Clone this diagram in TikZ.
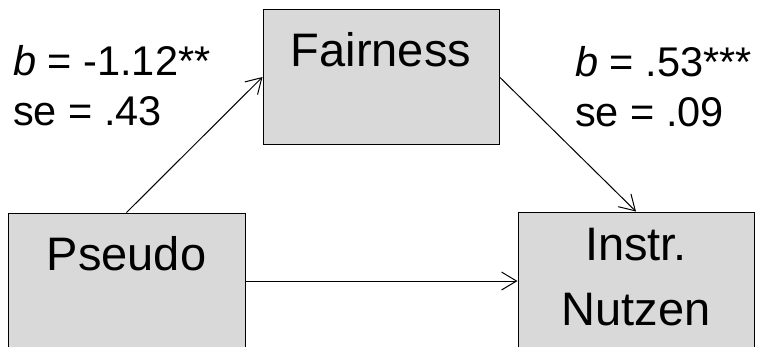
\documentclass[tikz,border=0pt]{standalone}
\usepackage{fontspec}
\setmainfont{Liberation Sans}
\usetikzlibrary{arrows.meta}
\tikzset{
  box/.style={draw=black, line width=1pt, fill=black!15, minimum width=236pt, inner sep=0pt,
    font=\fontsize{47}{65}\selectfont, align=center},
  conn/.style={line width=1pt, -{Straight Barb[length=15pt,width=18pt,line width=1pt]}},
  coef/.style={inner sep=0pt, align=left, font=\fontsize{41.5}{50}\selectfont, anchor=base west}
}
\begin{document}
\begin{tikzpicture}[x=1pt,y=-1pt]
\useasboundingbox (0,0) rectangle (759,346);
\clip (0,0) rectangle (759,346);
\node[box, minimum height=135.5pt, text height=35pt, text depth=55.6pt] (fair) at (381,77) {Fairness};
\node[box, minimum height=136pt, minimum width=237pt, text height=35pt, text depth=57pt] (pseudo) at (126.5,281) {Pseudo};
\node[box, minimum height=138pt, text height=88pt, text depth=0pt] (instr) at (636,281) {Instr.\\Nutzen};
\draw[conn] (pseudo.north) -- (fair.west);
\draw[conn] (fair.east) -- (instr.north);
\draw[conn] (pseudo.east) -- (instr.west);
\node[coef] (lab1) at (13,125.7) {\textit{b} = -1.12**\\se = .43};
\node[coef] (lab2) at (575,126.5) {\textit{b} = .53***\\se = .09};
\end{tikzpicture}
\end{document}
